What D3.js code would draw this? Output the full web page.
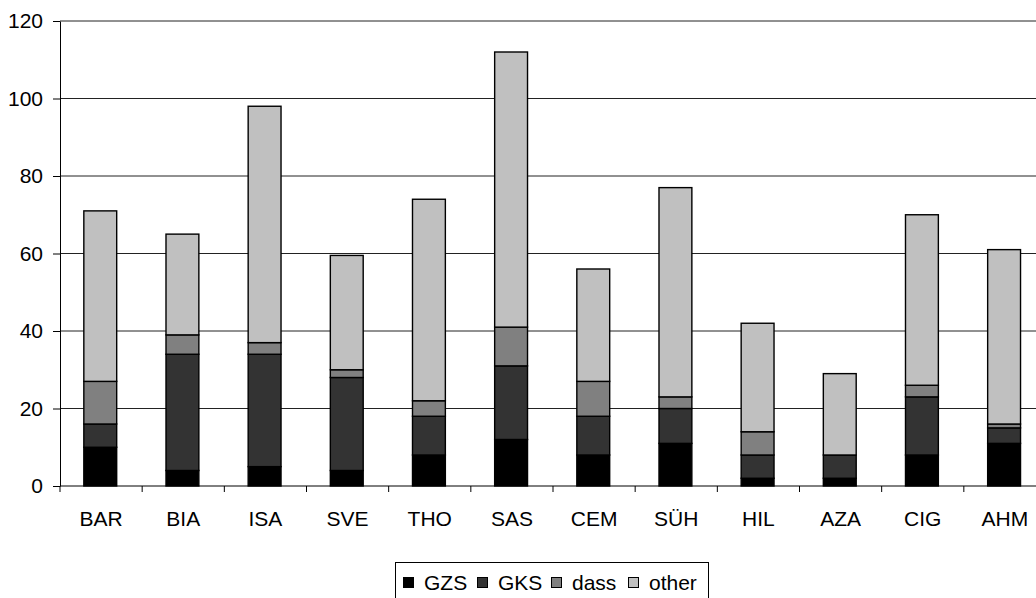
<!DOCTYPE html>
<html>
<head>
<meta charset="utf-8">
<script src="https://cdn.jsdelivr.net/npm/d3@7"></script>
<style>
  html, body { margin: 0; padding: 0; background: #fff; }
  svg { display: block; font-family: "Liberation Sans", Arial, sans-serif; }
</style>
</head>
<body>
<svg id="chart" width="1036" height="598"></svg>
<script>
// Categories along the x axis
const categories = ["BAR", "BIA", "ISA", "SVE", "THO", "SAS", "CEM", "SÜH", "HIL", "AZA", "CIG", "AHM"];

// Stacked series, bottom to top
const seriesNames = ["GZS", "GKS", "dass", "other"];
const gzs   = [10,  4,  5,  4,  8, 12,  8, 11,  2, 2,  8, 11];
const gks   = [ 6, 30, 29, 24, 10, 19, 10,  9,  6, 6, 15,  4];
const dass  = [11,  5,  3,  2,  4, 10,  9,  3,  6, 0,  3,  1];
const other = [44, 26, 61, 29.5, 52, 71, 29, 54, 28, 21, 44, 45];

// Value axis ticks
const yTicks = [0, 20, 40, 60, 80, 100, 120];

const fills = ["#000000", "#333333", "#808080", "#c0c0c0"];
const FONT = "'Liberation Sans', Arial, sans-serif";

const svg = d3.select("#chart");
const plot = { left: 60, right: 1046, top: 21, bottom: 486 };

const rows = categories.map((c, i) => ({
  cat: c, GZS: gzs[i], GKS: gks[i], dass: dass[i], other: other[i]
}));
const stacked = d3.stack().keys(seriesNames)(rows);

const x = d3.scaleBand().domain(categories).range([plot.left, plot.right]).padding(0);
const y = d3.scaleLinear().domain([0, 120]).range([plot.bottom, plot.top]);
const barW = x.bandwidth() * 0.4;
const barOff = x.bandwidth() * 0.29;

// Horizontal gridlines
svg.append("g")
  .selectAll("line")
  .data(yTicks.filter(t => t > 0))
  .join("line")
  .attr("x1", plot.left).attr("x2", plot.right)
  .attr("y1", d => y(d)).attr("y2", d => y(d))
  .attr("stroke", "#222").attr("stroke-width", 1);

// Stacked bars
svg.append("g")
  .selectAll("g")
  .data(stacked)
  .join("g")
  .attr("fill", (d, i) => fills[i])
  .selectAll("rect")
  .data(d => d)
  .join("rect")
  .attr("x", d => x(d.data.cat) + barOff)
  .attr("width", barW)
  .attr("y", d => y(d[1]))
  .attr("height", d => y(d[0]) - y(d[1]))
  .attr("stroke", "#000")
  .attr("stroke-width", 1.4);

// Y axis
const yAxis = svg.append("g")
  .attr("transform", `translate(${plot.left},0)`)
  .call(d3.axisLeft(y).tickValues(yTicks).tickSize(7).tickPadding(10).tickSizeOuter(0));
yAxis.select(".domain").attr("stroke", "#000");
yAxis.selectAll(".tick line").attr("stroke", "#000");
yAxis.selectAll("text").attr("font-size", 21).attr("fill", "#000")
  .attr("font-family", FONT);

// X axis: ticks at category boundaries, labels centered in bands
const xAxisG = svg.append("g").attr("transform", `translate(0,${plot.bottom})`);
xAxisG.append("line")
  .attr("x1", plot.left).attr("x2", plot.right)
  .attr("y1", 0).attr("y2", 0)
  .attr("stroke", "#000");
xAxisG.selectAll("line.tk")
  .data(categories)
  .join("line")
  .attr("class", "tk")
  .attr("x1", d => x(d)).attr("x2", d => x(d))
  .attr("y1", 0).attr("y2", 6)
  .attr("stroke", "#000");
xAxisG.selectAll("text")
  .data(categories)
  .join("text")
  .attr("x", d => x(d) + x.bandwidth() / 2)
  .attr("y", 40)
  .attr("text-anchor", "middle")
  .attr("font-size", 21)
  .attr("font-family", FONT)
  .attr("fill", "#000")
  .text(d => d);

// Legend
const legend = svg.append("g");
legend.append("rect")
  .attr("x", 395.5).attr("y", 562.5)
  .attr("width", 313).attr("height", 50)
  .attr("fill", "#fff").attr("stroke", "#000");
const legendX = [403, 477, 551, 628];
const items = legend.selectAll("g.item")
  .data(seriesNames)
  .join("g")
  .attr("class", "item")
  .attr("transform", (d, i) => `translate(${legendX[i]},577)`);
items.append("rect")
  .attr("x", 0.5).attr("y", 0.5)
  .attr("width", 10).attr("height", 10)
  .attr("fill", (d, i) => fills[i])
  .attr("stroke", "#000");
items.append("text")
  .attr("x", 21).attr("y", 12.5)
  .attr("font-size", 21)
  .attr("font-family", FONT)
  .attr("fill", "#000")
  .text(d => d);
</script>
</body>
</html>
